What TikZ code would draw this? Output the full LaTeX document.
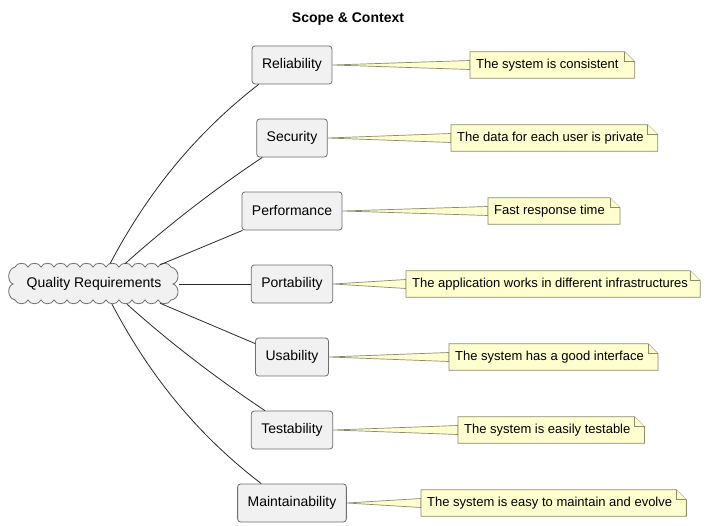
\documentclass[tikz,border=0pt]{standalone}
\usepackage{fontspec}
\setmainfont{Liberation Sans}
\usetikzlibrary{calc}
\definecolor{boxfill}{HTML}{F1F1F1}
\definecolor{boxline}{HTML}{6E6E6E}
\definecolor{notefill}{HTML}{FEFECE}
\definecolor{noteline}{HTML}{8C8C6C}
\definecolor{edgecol}{HTML}{2A2A2A}
\pgfdeclarelayer{paperlayer}
\pgfdeclarelayer{bglayer}
\pgfdeclarelayer{midlayer}
\pgfsetlayers{paperlayer,bglayer,midlayer,main}
\newcommand{\boxfont}{\fontsize{14}{16}\selectfont}
\newcommand{\notefont}{\fontsize{13}{15}\selectfont}
\newcommand{\drawnote}[1]{%
  \begin{pgfonlayer}{midlayer}
  \draw[noteframe] (#1.south west) -- (#1.north west) -- ([xshift=-10pt]#1.north east) -- ([yshift=-10pt]#1.north east) -- (#1.south east) -- cycle;
  \draw[noteframe] ([xshift=-10pt]#1.north east) -- ([xshift=-10pt,yshift=-10pt]#1.north east) -- ([yshift=-10pt]#1.north east);
  \end{pgfonlayer}}
\newcommand{\drawwedge}[2]{%
  \begin{pgfonlayer}{bglayer}
  \draw[wedge] (#1.east) -- ([yshift=4.5pt]#2.west) -- ([yshift=-4.5pt]#2.west) -- cycle;
  \end{pgfonlayer}}
\tikzset{
  qbox/.style={draw=boxline, fill=boxfill, line width=0.8pt, rounded corners=3pt,
    minimum height=38pt, inner xsep=10pt, inner ysep=0pt, font=\boxfont, text=black},
  notetext/.style={anchor=west, minimum height=26pt, inner xsep=6pt, inner ysep=0pt,
    font=\notefont, text=black},
  noteframe/.style={draw=noteline, fill=notefill, line width=0.8pt, line join=miter},
  wedge/.style={draw=noteline, fill=notefill, line width=0.7pt},
  conn/.style={draw=edgecol, line width=0.8pt},
  cloudline/.style={draw=boxline, fill=boxfill, line width=0.8pt}
}
\begin{document}
\begin{tikzpicture}[x=1pt,y=-1pt]
\useasboundingbox (0,0) rectangle (707,526);
\begin{pgfonlayer}{paperlayer}
\fill[white] (0,0) rectangle (707,526);
\end{pgfonlayer}

\node[font=\fontsize{14}{16}\selectfont\bfseries] (title) at (348,19) {Scope \& Context};

% cloud
\node[font=\boxfont, minimum width=170pt, minimum height=40pt, inner sep=0pt] (q) at (94,284) {Quality Requirements};
\begin{pgfonlayer}{bglayer}
\draw[cloudline] (15,267)
  \foreach \i in {1,...,12} { .. controls +(2,-5) and +(-2,-5) .. ++(13,0) }
  .. controls (180,269) and (180,282) .. (173,284)
  .. controls (180,286) and (180,299) .. (171,300)
  \foreach \i in {1,...,12} { .. controls +(-2,5) and +(2,5) .. ++(-13,0) }
  .. controls (7,298) and (7,286) .. (13,284)
  .. controls (7,282) and (7,269) .. (15,267) -- cycle;
\end{pgfonlayer}

% boxes
\node[qbox] (b1) at (292,65) {Reliability};
\node[qbox] (b2) at (292,138) {Security};
\node[qbox] (b3) at (292,211) {Performance};
\node[qbox] (b4) at (292,284) {Portability};
\node[qbox] (b5) at (292,357) {Usability};
\node[qbox] (b6) at (292,430) {Testability};
\node[qbox] (b7) at (292,503) {Maintainability};

% notes
\node[notetext] (n1) at (470,65) {The system is consistent\kern10pt};
\node[notetext] (n2) at (451,138) {The data for each user is private\kern8pt};
\node[notetext] (n3) at (488,211) {Fast response time\kern9pt};
\node[notetext] (n4) at (406,284) {The application works in different infrastructures\kern6pt};
\node[notetext] (n5) at (449,357) {The system has a good interface\kern8pt};
\node[notetext] (n6) at (458,430) {The system is easily testable\kern8pt};
\node[notetext] (n7) at (421,503) {The system is easy to maintain and evolve\kern8pt};

\drawnote{n1}\drawnote{n2}\drawnote{n3}\drawnote{n4}\drawnote{n5}\drawnote{n6}\drawnote{n7}
\drawwedge{b1}{n1}\drawwedge{b2}{n2}\drawwedge{b3}{n3}\drawwedge{b4}{n4}
\drawwedge{b5}{n5}\drawwedge{b6}{n6}\drawwedge{b7}{n7}

% connectors
\draw[conn] ($(q.north)+(16,0)$) .. controls +(38,-72) and +(-63,49) .. ([xshift=7pt]b1.south west);
\draw[conn] ($(q.north)+(31,0)$) .. controls +(43.5,-39) and +(-48.5,32.5) .. ([xshift=6pt]b2.south west);
\draw[conn] ($(q.north)+(66,1)$) -- ([xshift=1pt]b3.south west);
\draw[conn] (q.east) -- (b4.west);
\draw[conn] ($(q.south)+(66,-1)$) -- ([yshift=-6pt]b5.north west);
\draw[conn] ($(q.south)+(33,0)$) .. controls +(43.5,39) and +(-48.5,-32.5) .. ([xshift=14pt]b6.north west);
\draw[conn] ($(q.south)+(18,0)$) .. controls +(38,72) and +(-64,-49) .. ([xshift=24pt]b7.north west);
\end{tikzpicture}
\end{document}
